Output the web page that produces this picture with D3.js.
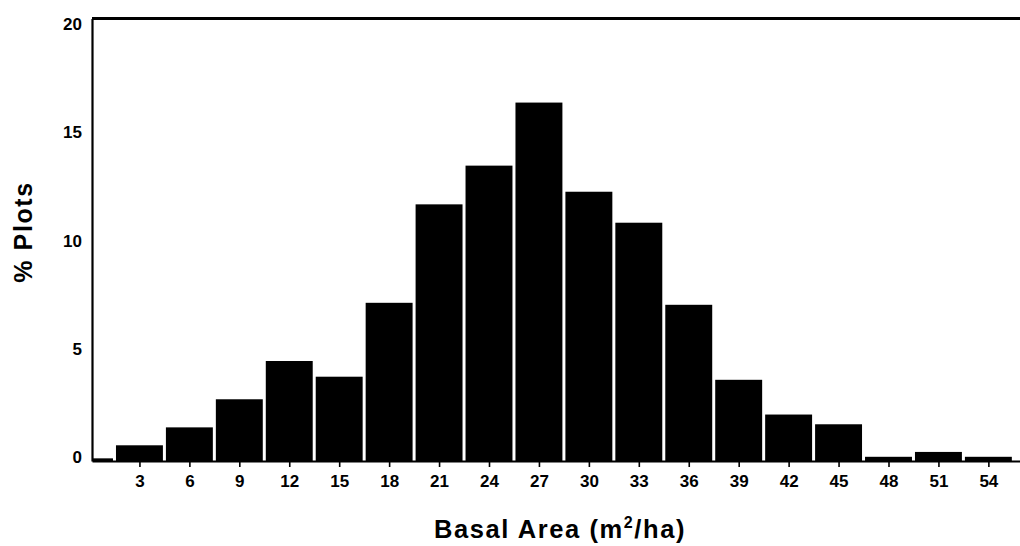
<!DOCTYPE html>
<html>
<head>
  <meta charset="utf-8">
  <title>Basal Area</title>
  <script src="https://cdn.jsdelivr.net/npm/d3@7"></script>
  <style>
    body { margin: 0; background: #fff; }
    svg { display: block; font-family: "Liberation Sans", Arial, sans-serif; font-weight: bold; }
  </style>
</head>
<body>
<svg id="chart" width="1020" height="546"></svg>

<script>
  // basal area classes (m2/ha) and % of plots in each
  var classes = [0, 3, 6, 9, 12, 15, 18, 21, 24, 27, 30, 33, 36, 39, 42, 45, 48, 51, 54];
  var pctPlots = [0.12, 0.71, 1.52, 2.79, 4.52, 3.81, 7.15, 11.6, 13.35, 16.2, 12.17, 10.77, 7.06, 3.67, 2.1, 1.66, 0.19, 0.41, 0.19];
  var xTicks = [3, 6, 9, 12, 15, 18, 21, 24, 27, 30, 33, 36, 39, 42, 45, 48, 51, 54];
  var yTicks = [0, 5, 10, 15, 20];

  var svg = d3.select('#chart');
  var plotLeft = 92, plotRight = 1020, plotTop = 18.5, plotBottom = 461;

  var x = d3.scaleLinear().domain([0.15, 55.9]).range([plotLeft, plotRight]);
  var y = d3.scaleLinear().domain([0, 20]).range([plotBottom, plotTop]);

  function barLeft(d) { return Math.max(x(d - 1.5) + 1.5, plotLeft); }

  // bars, 3 units wide with a small white gap
  svg.append('g')
    .selectAll('rect')
    .data(classes)
    .enter()
    .append('rect')
    .attr('x', barLeft)
    .attr('width', function (d) { return x(d + 1.5) - 1.5 - barLeft(d); })
    .attr('y', function (d, i) { return y(pctPlots[i]); })
    .attr('height', function (d, i) { return plotBottom - y(pctPlots[i]); })
    .attr('fill', '#000');

  // x axis
  var xAxis = svg.append('g')
    .attr('transform', 'translate(0,' + plotBottom + ')')
    .call(d3.axisBottom(x).tickValues(xTicks).tickSize(6).tickSizeOuter(0).tickPadding(8));
  xAxis.select('.domain').attr('stroke-width', 2.2);
  xAxis.selectAll('.tick line').attr('stroke-width', 1.6);
  xAxis.attr('font-size', 17).attr('font-family', null);
  xAxis.selectAll('text').attr('font-weight', 'bold').attr('fill', '#000');

  // y axis (labels sit a little toward the middle, as in the original)
  var yAxis = svg.append('g')
    .attr('transform', 'translate(' + plotLeft + ',0)')
    .call(d3.axisLeft(y).tickValues(yTicks).tickSize(0).tickPadding(10));
  yAxis.select('.domain').attr('stroke-width', 2.2);
  yAxis.attr('font-size', 17).attr('font-family', null);
  yAxis.selectAll('text')
    .attr('font-weight', 'bold').attr('fill', '#000')
    .attr('y', function (d) { return d * 0.45 - 3.5; });

  // top frame line
  svg.append('line')
    .attr('x1', plotLeft).attr('x2', plotRight)
    .attr('y1', plotTop).attr('y2', plotTop)
    .attr('stroke', '#000').attr('stroke-width', 2.8);

  // axis titles
  svg.append('text')
    .attr('transform', 'translate(32,232) rotate(-90)')
    .attr('text-anchor', 'middle')
    .attr('font-size', 25)
    .attr('letter-spacing', 1.6)
    .text('% Plots');

  var xt = svg.append('text')
    .attr('x', 560)
    .attr('y', 538)
    .attr('text-anchor', 'middle')
    .attr('font-size', 25.5)
    .attr('letter-spacing', 1.6)
    .text('Basal Area (m');
  xt.append('tspan').attr('font-size', 16).attr('dy', -10).text('2');
  xt.append('tspan').attr('dy', 10).text('/ha)');
</script>
</body>
</html>
